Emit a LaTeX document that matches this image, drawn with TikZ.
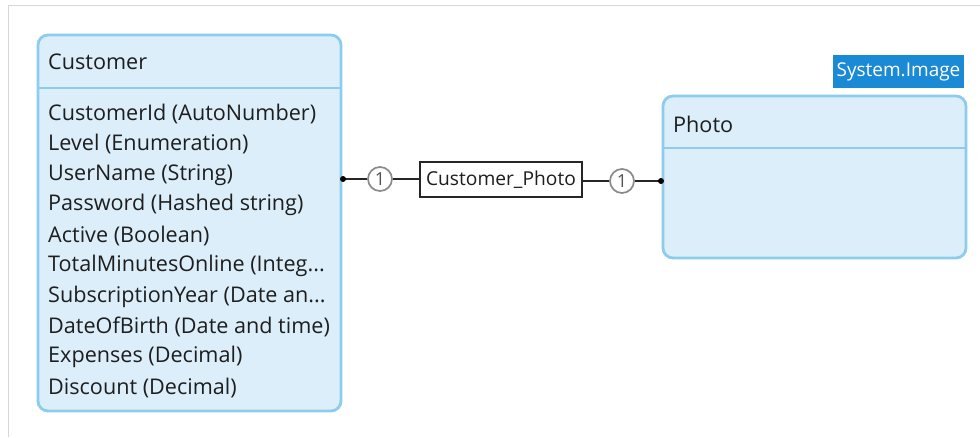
\documentclass[tikz,border=0pt]{standalone}
\usepackage{fontspec}
\setmainfont{Open Sans}
\definecolor{entfill}{HTML}{DCEEFA}
\definecolor{entdraw}{HTML}{8CCDEE}
\definecolor{tagfill}{HTML}{1B8AD6}
\definecolor{framegray}{HTML}{D6D6D6}
\definecolor{circgray}{HTML}{8A8A8A}
\definecolor{txt}{HTML}{1E1E1E}
\begin{document}
\begin{tikzpicture}[x=1pt,y=-1pt,
  entity/.style={draw=entdraw,fill=entfill,line width=2.8pt,rounded corners=10pt},
  sep/.style={draw=entdraw,line width=2.4pt},
  ftxt/.style={font=\fontsize{21.6}{25}\selectfont,text=txt,anchor=west,inner sep=0pt},
  onecirc/.style={circle,draw=circgray,fill=white,line width=1.7pt,minimum size=24pt,inner sep=0pt,font=\fontsize{18}{20}\selectfont,text=circgray!60!black},
  assoc/.style={draw=black!85,fill=white,line width=1.5pt,minimum width=162pt,minimum height=35pt,inner sep=0pt,font=\fontsize{19.2}{23}\selectfont,text=txt},
  conn/.style={draw=black!85,line width=1.6pt},
  tag/.style={fill=tagfill,text=white,minimum width=131pt,minimum height=33pt,inner sep=0pt,font=\fontsize{19}{23}\selectfont}
]
\useasboundingbox (0,0) rectangle (980,437);
\draw[framegray,line width=1pt] (8,437) -- (8,5.5) -- (980,5.5);
% Customer entity
\path[entity] (38,35) rectangle (341,411);
\draw[sep] (38,88) -- (341,88);
\node[ftxt] (custtitle) at (48,62) {Customer};
\node[ftxt] (a1) at (48,114) {CustomerId (AutoNumber)};
\node[ftxt] (a2) at (48,144.4) {Level (Enumeration)};
\node[ftxt] (a3) at (48,174.8) {UserName (String)};
\node[ftxt] (a4) at (48,205.2) {Password (Hashed string)};
\node[ftxt] (a5) at (48,235.6) {Active (Boolean)};
\node[ftxt] (a6) at (48,266) {TotalMinutesOnline (Integ...};
\node[ftxt] (a7) at (48,296.4) {SubscriptionYear (Date an...};
\node[ftxt] (a8) at (48,326.8) {DateOfBirth (Date and time)};
\node[ftxt] (a9) at (48,357.2) {Expenses (Decimal)};
\node[ftxt] (a10) at (48,387.6) {Discount (Decimal)};
% Photo entity
\path[entity] (663,96) rectangle (966,258);
\draw[sep] (663,148) -- (966,148);
\node[ftxt] (phototitle) at (673,124) {Photo};
\node[tag] (systag) at (898.5,71.5) {System.Image};
% connector
\coordinate (cend) at (343,179);
\coordinate (pend) at (661,181);
\node[onecirc] (c1) at (380,179) {1};
\node[assoc] (assocbox) at (501,179.5) {Customer\_Photo};
\node[onecirc] (c2) at (622,181) {1};
\draw[conn] (cend) -- (c1);
\draw[conn] (c1) -- (c1 -| assocbox.west);
\draw[conn] (c2 -| assocbox.east) -- (c2);
\draw[conn] (c2) -- (pend);
\fill[black] (cend) circle (3pt);
\fill[black] (pend) circle (3pt);
\end{tikzpicture}
\end{document}
